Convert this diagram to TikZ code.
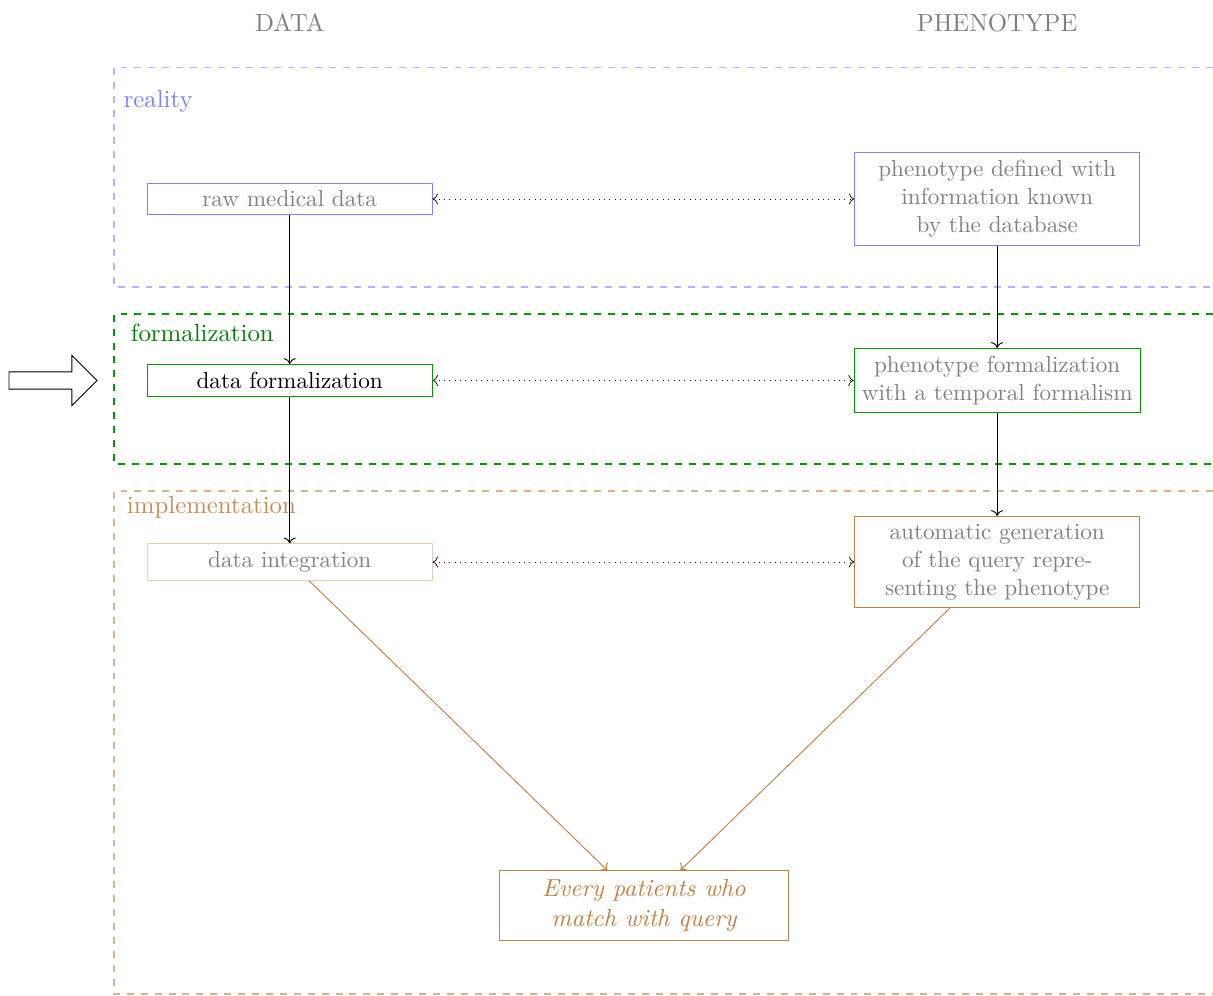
\documentclass[tikz,border=0pt]{standalone}
\usepackage{amsmath}
\usetikzlibrary{arrows.meta, positioning}

\begin{document}
\begin{tikzpicture}[x=1cm, y=1cm,
    box/.style={draw, thin, minimum width=4.32cm, align=center, text=gray},
    layer/.style={dashed, semithick},
    layerlabel/.style={anchor=west, font=\fontsize{10.7pt}{13pt}\selectfont},
    title/.style={text=gray, font=\fontsize{10.7pt}{13pt}\selectfont},
    link/.style={<->, dotted, line width=0.3pt},
    flow/.style={->}]

    % ==========================================
    % CANVAS
    % ==========================================
    \useasboundingbox (0,0) rectangle (18.38,-15.08);

    % Column titles
    \node[title] (datatitle) at (4.39,-0.35) {DATA};
    \node[title] (phenotitle) at (15.11,-0.35) {PHENOTYPE};

    % ==========================================
    % LAYER 1: reality
    % ==========================================
    \draw[layer, blue!30] (18.38,-1.02) -- (1.73,-1.02) -- (1.73,-4.35) -- (18.38,-4.35);
    \node[layerlabel, text=blue!50] (realitylabel) at (1.75,-1.53) {reality};

    \node[box, draw=blue!50] (rawdata) at (4.39,-3.015) {raw medical data};
    \node[box, draw=blue!50] (phenodef) at (15.11,-3.015)
        {phenotype defined with\\information known\\by the database};

    % ==========================================
    % LAYER 2: formalization
    % ==========================================
    \draw[layer, green!60!black] (18.38,-4.76) -- (1.73,-4.76) -- (1.73,-7.03) -- (18.38,-7.03);
    \node[layerlabel, text=green!50!black] (formallabel) at (1.86,-5.045) {formalization};

    \node[box, draw=green!60!black, text=black] (dataformal) at (4.39,-5.765) {data formalization};
    \node[box, draw=green!60!black] (phenoformal) at (15.11,-5.765)
        {phenotype formalization\\with a temporal formalism};

    % Input arrow on the left
    \draw[thin] (0.136,-5.635) -- (1.09,-5.635) -- (1.09,-5.385) -- (1.47,-5.765)
        -- (1.09,-6.145) -- (1.09,-5.895) -- (0.136,-5.895) -- cycle;

    % ==========================================
    % LAYER 3: implementation
    % ==========================================
    \draw[layer, brown!60] (18.38,-7.44) -- (1.73,-7.44) -- (1.73,-15.06) -- (18.38,-15.06);
    \node[layerlabel, text=brown!90] (impllabel) at (1.80,-7.68) {implementation};

    \node[box, draw=brown!40] (integration) at (4.39,-8.515) {data integration};
    \node[box, draw=brown] (querygen) at (15.11,-8.515)
        {automatic generation\\of the query repre-\\senting the phenotype};

    \node[box, draw=brown, text=brown, minimum width=4.38cm, minimum height=1.06cm,
        font=\fontsize{10.6pt}{13pt}\selectfont\itshape] (patients) at (9.757,-13.726)
        {Every patients who\\match with query};

    % ==========================================
    % CONNECTORS
    % ==========================================
    \draw[link] (rawdata) -- (phenodef);
    \draw[link] (dataformal) -- (phenoformal);
    \draw[link] (integration) -- (querygen);

    \draw[flow] (rawdata) -- (dataformal);
    \draw[flow] (dataformal) -- (integration);
    \draw[flow] (phenodef) -- (phenoformal);
    \draw[flow] (phenoformal) -- (querygen);

    \draw[flow, brown] (integration) -- (patients);
    \draw[flow, brown] (querygen) -- (patients);

\end{tikzpicture}
\end{document}
